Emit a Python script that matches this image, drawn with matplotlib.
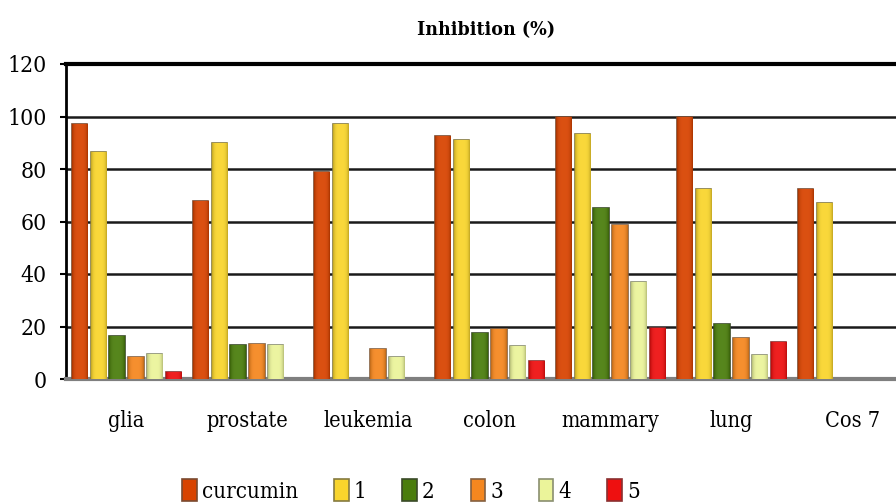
import matplotlib
matplotlib.use('Agg')
import matplotlib.pyplot as plt
import matplotlib.colors as mcolors
import numpy as np

nan = np.nan
categories = ['glia', 'prostate', 'leukemia', 'colon', 'mammary', 'lung', 'Cos 7']
series_names = ['curcumin', '1', '2', '3', '4', '5']
curcumin = [97, 68, 79, 92.5, 100, 100, 72.5]
comp1 = [86.5, 90, 97, 91, 93.5, 72.5, 67]
comp2 = [16.5, 13, nan, 17.5, 65, 21, nan]
comp3 = [8.5, 13.5, 11.5, 19, 58.5, 15.5, nan]
comp4 = [9.5, 13, 8.5, 12.5, 37, 9, nan]
comp5 = [2.5, nan, nan, 7, 19.5, 14, nan]
yticks = [0, 20, 40, 60, 80, 100, 120]

series_values = [curcumin, comp1, comp2, comp3, comp4, comp5]
colors = ['#D84300', '#F9D52C', '#4A7D0C', '#F5871F', '#EBF49A', '#EE1010']
edges = ['#7A4A30', '#857A40', '#3A4A28', '#856040', '#8A8F70', '#8A3030']

plt.rcParams['font.family'] = ['Liberation Serif', 'DejaVu Serif']

fig = plt.figure(figsize=(8.96, 5.03), dpi=100)
ax = fig.add_axes([66/896, 1-379/503, 847/896, 315/503])

x = np.arange(len(categories))
step = 0.157
width = 0.124
handles = []


def shade(bars, color):
    rgb = np.array(mcolors.to_rgb(color))
    t = np.linspace(-1, 1, 40)
    prof = 1 - np.abs(t) ** 4
    dark = rgb * 0.78
    light = rgb + (1 - rgb) * 0.07
    grad = dark[None, :] * (1 - prof[:, None]) + light[None, :] * prof[:, None]
    img = grad[None, :, :]
    for p in bars.patches:
        h = p.get_height()
        if not np.isfinite(h) or h <= 0:
            continue
        x0 = p.get_x()
        w = p.get_width()
        im = ax.imshow(img, extent=[x0, x0 + w, 0, h], aspect='auto',
                       zorder=3.5, interpolation='bilinear')
        im.set_clip_path(p)


for i, (vals, c, e) in enumerate(zip(series_values, colors, edges)):
    b = ax.bar(x + (i - 2.5) * step, vals, width, color=c, edgecolor=e,
               linewidth=1.2, zorder=3, label=series_names[i])
    handles.append(b)
    shade(b, c)

ax.set_xlim(-0.5, 6.5)
ax.set_ylim(0, 120)
ax.set_aspect('auto')
ax.set_yticks(yticks)
ax.set_xticks(x)
ax.set_xticklabels(categories)
ax.tick_params(axis='x', length=0, pad=22)
ax.tick_params(axis='y', length=4, width=1.5, pad=10, direction='out')
for lab in ax.get_xticklabels():
    lab.set_fontfamily('DejaVu Serif'); lab.set_fontstretch('condensed'); lab.set_fontsize(15.5)
for lab in ax.get_yticklabels():
    lab.set_fontfamily('DejaVu Serif'); lab.set_fontstretch('condensed'); lab.set_fontsize(16.5)
ax.yaxis.grid(True, color='#1a1a1a', linewidth=1.8, zorder=0)
ax.set_axisbelow(True)
ax.spines['right'].set_visible(False)
ax.spines['top'].set_linewidth(3)
ax.spines['top'].set_color('black')
ax.spines['left'].set_linewidth(2)
ax.spines['left'].set_color('black')
ax.spines['bottom'].set_linewidth(3)
ax.spines['bottom'].set_color('#7f7f7f')

fig.text(486/896, 1-30/503, 'Inhibition (%)', ha='center', va='center',
         fontsize=14, fontweight='bold', family='DejaVu Serif',
         fontstretch='condensed')

leg = fig.legend(handles=handles, labels=series_names, loc='center',
                 bbox_to_anchor=(411/896, 1-491/503), ncol=6, frameon=False,
                 fontsize=16, handlelength=0.65, handleheight=1.15,
                 handletextpad=0.23, columnspacing=1.62)
for t in leg.get_texts():
    t.set_fontfamily('DejaVu Serif'); t.set_fontstretch('condensed')

fig.savefig('out.png', dpi=100)
